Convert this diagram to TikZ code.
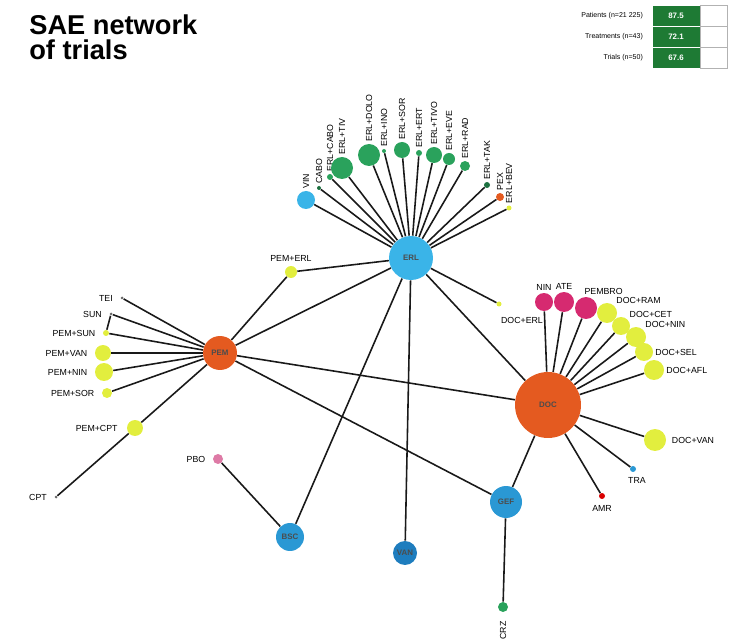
\documentclass[tikz,border=0pt]{standalone}
\usepackage{fontspec}
\setmainfont{Liberation Sans}
\usetikzlibrary{
  backgrounds,
  positioning
}
\definecolor{erlblue}{RGB}{58,180,232}
\definecolor{hubblue}{RGB}{42,152,212}
\definecolor{deepblue}{RGB}{30,125,190}
\definecolor{hubred}{RGB}{228,90,32}
\definecolor{trialgreen}{RGB}{42,162,92}
\definecolor{combyellow}{RGB}{226,238,62}
\definecolor{immpink}{RGB}{214,42,112}
\definecolor{pbopink}{RGB}{222,122,166}
\definecolor{legendgreen}{RGB}{30,122,52}
\tikzset{
  edge/.style={line width=0.9pt,draw=black!90},
  trt/.style={circle,inner sep=0pt,draw=none},
  tlabel/.style={font=\fontsize{5}{6}\selectfont,inner sep=1pt},
  hubtext/.style={font=\fontsize{4.5}{5}\selectfont\bfseries,text=black!70},
  legtext/.style={font=\fontsize{4}{5}\selectfont,inner sep=1pt},
  legval/.style={
    fill=legendgreen,
    draw=white,
    text=white,
    font=\fontsize{4.5}{5}\selectfont\bfseries,
    minimum width=0.96cm,
    minimum height=0.42cm,
    inner sep=0pt
  },
  legblank/.style={
    draw=black!30,
    fill=white,
    minimum width=0.54cm,
    minimum height=0.42cm,
    inner sep=0pt
  }
}
\newcommand{\trt}[6][]{%
  \node[trt,fill=#5,minimum size={#4*0.04cm},#1] (#2) at (#3) {#6};%
}

\begin{document}
\begin{tikzpicture}[x=0.02cm,y=-0.02cm]
  \useasboundingbox (0,0) rectangle (729,644);

  % Title and legend.
  \node[anchor=north west,inner sep=0pt,align=left,
    font=\fontsize{15.5}{14.2}\selectfont\bfseries] (title) at (29,14)
    {SAE network\\of trials};
  \foreach \t/\v/\y [count=\i] in {
    Patients (n=21 225)/87.5/16,
    Treatments (n=43)/72.1/37,
    Trials (n=50)/67.6/58%
  } {
    \node[legval] (lv\i) at (676,\y) {\v};
    \node[legblank,right=0pt of lv\i] (lb\i) {};
    \node[legtext,anchor=east] (lt\i) at (645,\y) {\t};
  }

  % Hubs.
  \trt[hubtext]{erl}{411,258}{22}{erlblue}{ERL}
  \trt[hubtext]{pem}{220,353}{17}{hubred}{PEM}
  \trt[hubtext]{doc}{548,405}{33}{hubred}{DOC}
  \trt[hubtext]{gef}{506,502}{16}{hubblue}{GEF}
  \trt[hubtext]{bsc}{290,537}{14}{hubblue}{BSC}
  \trt[hubtext]{van}{405,553}{12}{deepblue}{VAN}
  \trt{crz}{503,607}{5}{trialgreen}{}
  \node[tlabel,rotate=90,anchor=east] (crzl) at ([yshift=-4]crz.south) {CRZ};

  % ERL fan.
  \foreach \x/\y/\r/\c/\t [count=\i] in {
    306/200/9/erlblue/VIN,
    319/188/2/trialgreen!70!black/CABO,
    330/177/3/trialgreen/ERL+CABO,
    342/168/11/trialgreen/ERL+TIV,
    369/155/11/trialgreen/ERL+DOLO,
    384/151/2/trialgreen/ERL+INO,
    402/150/8/trialgreen/ERL+SOR,
    419/153/3/trialgreen/ERL+ERT,
    434/155/8/trialgreen/ERL+TIVO,
    449/159/6/trialgreen/ERL+EVE,
    465/166/5/trialgreen/ERL+RAD,
    487/185/3/trialgreen!70!black/ERL+TAK,
    500/197/4/hubred/PEX,
    509/208/2.5/combyellow/ERL+BEV%
  } {
    \trt{f\i}{\x,\y}{\r}{\c}{}
    \node[tlabel,rotate=90,anchor=west] (fl\i) at (f\i.north) {\t};
  }
  \trt{pemerl}{291,272}{6}{combyellow}{}
  \node[tlabel,anchor=south] (pemerll) at ([yshift=1]pemerl.north) {PEM+ERL};
  \trt{docerl}{499,304}{2.5}{combyellow}{}
  \node[tlabel,anchor=north west] (docerll) at ([shift={(0,8)}]docerl.south) {DOC+ERL};

  % PEM leaves.
  \foreach \x/\y/\r/\c/\t [count=\i] in {
    122/298/1.5/black!60/TEI,
    111/314/1.5/black!60/SUN,
    106/333/3/combyellow/PEM+SUN,
    103/353/8/combyellow/PEM+VAN,
    104/372/9/combyellow/PEM+NIN,
    107/393/5/combyellow/PEM+SOR%
  } {
    \trt{p\i}{\x,\y}{\r}{\c}{}
    \node[tlabel,anchor=east] (pl\i) at ([xshift=-3]p\i.west) {\t};
  }
  \trt{pemcpt}{135,428}{8}{combyellow}{}
  \node[tlabel,anchor=east] (pemcptl) at ([xshift=-4]pemcpt.west) {PEM+CPT};
  \trt{cpt}{56,497}{1.5}{black!60}{}
  \node[tlabel,anchor=east] (cptl) at ([xshift=-3]cpt.west) {CPT};
  \trt{pbo}{218,459}{5}{pbopink}{}
  \node[tlabel,anchor=east] (pbol) at ([xshift=-3]pbo.west) {PBO};

  % DOC leaves.
  \trt{nin}{544,302}{9}{immpink}{}
  \trt{ate}{564,302}{10}{immpink}{}
  \trt{pembro}{586,308}{11}{immpink}{}
  \node[tlabel,anchor=south] (ninl) at (nin.north) {NIN};
  \node[tlabel,anchor=south] (atel) at (ate.north) {ATE};
  \node[tlabel,anchor=south] (pembrol) at ([xshift=10]pembro.north) {PEMBRO};
  \foreach \x/\y/\r/\a/\p/\t [count=\i] in {
    607/313/10/south west/north east/DOC+RAM,
    621/326/9/south west/north east/DOC+CET,
    636/337/10/south west/north east/DOC+NIN,
    644/352/9/west/east/DOC+SEL,
    654/370/10/west/east/DOC+AFL%
  } {
    \trt{d\i}{\x,\y}{\r}{combyellow}{}
    \node[tlabel,anchor=\a] (dl\i) at (d\i.\p) {\t};
  }
  \trt{docvan}{655,440}{11}{combyellow}{}
  \node[tlabel,anchor=west] (docvanl) at ([xshift=2]docvan.east) {DOC+VAN};
  \trt{tra}{633,469}{3}{hubblue}{}
  \node[tlabel,anchor=north] (tral) at ([shift={(4,3)}]tra.south) {TRA};
  \trt{amr}{602,496}{3}{red!85!black}{}
  \node[tlabel,anchor=north] (amrl) at ([yshift=-2]amr.south) {AMR};

  % Connectors below the nodes.
  \begin{scope}[on background layer]
    \foreach \i in {1,...,14} {
      \draw[edge] (erl) -- (f\i);
    }
    \foreach \i in {1,...,6} {
      \draw[edge] (pem) -- (p\i);
    }
    \foreach \n in {nin,ate,pembro,d1,d2,d3,d4,d5,docvan,tra,amr} {
      \draw[edge] (doc) -- (\n);
    }
    \foreach \a/\b in {erl/pemerl, erl/docerl, erl/pem, erl/bsc, erl/van,
      erl/doc, pem/pemerl, pem/pemcpt, pemcpt/cpt, p2/p3, pem/doc, pem/gef,
      doc/gef, gef/crz, bsc/pbo} {
      \draw[edge] (\a) -- (\b);
    }
  \end{scope}
\end{tikzpicture}
\end{document}
